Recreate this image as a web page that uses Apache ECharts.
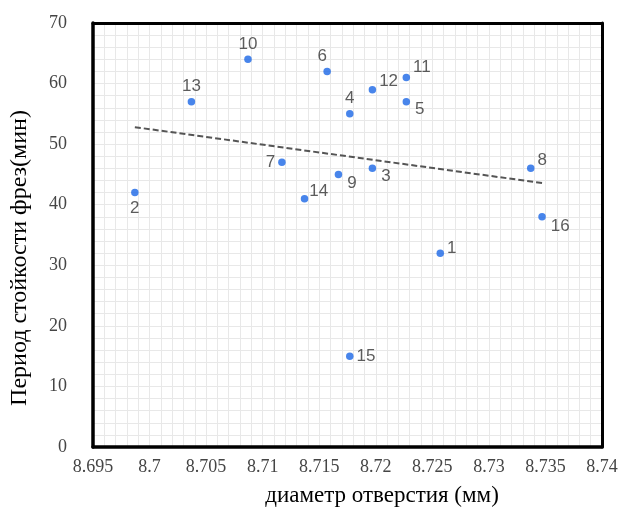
<!DOCTYPE html>
<html>
<head>
<meta charset="utf-8">
<script src="https://cdn.jsdelivr.net/npm/echarts@6/dist/echarts.min.js"></script>
<style>
html,body{margin:0;padding:0;background:#fff;}
#chart{width:621px;height:513px;}
</style>
</head>
<body>
<div id="chart"></div>
<script>
// Point numbers 1..16
const pointLabels = ['1','2','3','4','5','6','7','8','9','10','11','12','13','14','15','16'];
// Hole diameter (mm)
const xValues = [8.7257, 8.6987, 8.7197, 8.7177, 8.7227, 8.7157, 8.7117, 8.7337,
                 8.7167, 8.7087, 8.7227, 8.7197, 8.7037, 8.7137, 8.7177, 8.7347];
// Tool life (min)
const yValues = [32, 42, 46, 55, 57, 62, 47, 46, 45, 64, 61, 59, 57, 41, 15, 38];
// Label placement per point
const labelPos = ['right','bottom','right','top','right','top','left','right',
                  'right','top','right','right','top','right','right','right'];
const labelOffset = [[0,-5],[0,0],[2,8],[0,0],[2,8],[-5,0],[0,0],[0,-8],
                     [2,9],[0,0],[0,-10],[0,-8],[0,0],[-2,-7],[0,0],[2,9]];

const xTitle = 'диаметр отверстия (мм)';
const yTitle = 'Период стойкости фрез(мин)';

// least squares trend line
const n = xValues.length;
const mx = xValues.reduce((a,b)=>a+b,0)/n;
const my = yValues.reduce((a,b)=>a+b,0)/n;
let sxy = 0, sxx = 0;
for (let i=0;i<n;i++){ sxy += (xValues[i]-mx)*(yValues[i]-my); sxx += (xValues[i]-mx)**2; }
const slope = sxy/sxx, icpt = my - slope*mx;
const xMin = Math.min(...xValues), xMax = Math.max(...xValues);
const trend = [[xMin, icpt+slope*xMin],[xMax, icpt+slope*xMax]];

const pts = xValues.map((x,i)=>({
  value:[x, yValues[i]],
  label:{show:true, formatter:pointLabels[i], position:labelPos[i], offset:labelOffset[i], distance:3}
}));

const gridColor = '#e8e8e8';
const X_MIN = 8.695, X_MAX = 8.74, X_INT = 0.005;
const Y_MIN = 0, Y_MAX = 70, Y_INT = 10;
const chart = echarts.init(document.getElementById('chart'), null, {renderer:'canvas'});
chart.setOption({
  animation:false,
  backgroundColor:'#fff',
  grid:{left:93, right:19, top:23, bottom:66, show:false},
  xAxis:[{
    type:'value', min:X_MIN, max:X_MAX, interval:X_INT,
    axisLine:{show:false},
    axisTick:{show:false},
    axisLabel:{color:'#454545', fontFamily:'Liberation Serif', fontSize:18, margin:11,
      formatter:v=>String(parseFloat(v.toFixed(3)))},
    splitLine:{show:true, lineStyle:{color:gridColor, width:1}},
    minorTick:{show:false, splitNumber:5},
    minorSplitLine:{show:true, lineStyle:{color:gridColor, width:1}}
  },{
    type:'value', position:'top', min:X_MIN, max:X_MAX, interval:X_INT,
    axisLine:{show:true, onZero:false, lineStyle:{color:'#000', width:3}},
    axisTick:{show:false}, axisLabel:{show:false}, splitLine:{show:false}, z:5
  },{
    type:'value', position:'bottom', min:X_MIN, max:X_MAX, interval:X_INT,
    axisLine:{show:true, onZero:false, lineStyle:{color:'#000', width:3.5}},
    axisTick:{show:false}, axisLabel:{show:false}, splitLine:{show:false}, z:5
  }],
  yAxis:[{
    type:'value', min:Y_MIN, max:Y_MAX, interval:Y_INT,
    axisLine:{show:false},
    axisTick:{show:false},
    axisLabel:{color:'#454545', fontFamily:'Liberation Serif', fontSize:18, margin:26},
    splitLine:{show:true, lineStyle:{color:gridColor, width:1}},
    minorTick:{show:false, splitNumber:5},
    minorSplitLine:{show:true, lineStyle:{color:gridColor, width:1}}
  },{
    type:'value', position:'right', min:Y_MIN, max:Y_MAX, interval:Y_INT,
    axisLine:{show:true, onZero:false, lineStyle:{color:'#000', width:3}},
    axisTick:{show:false}, axisLabel:{show:false}, splitLine:{show:false}, z:5
  },{
    type:'value', position:'left', min:Y_MIN, max:Y_MAX, interval:Y_INT,
    axisLine:{show:true, onZero:false, lineStyle:{color:'#000', width:3.5}},
    axisTick:{show:false}, axisLabel:{show:false}, splitLine:{show:false}, z:5
  }],
  graphic:[
    {type:'text', style:{text:xTitle, x:382, y:496, align:'center', verticalAlign:'middle',
      font:'23px "Liberation Serif"', fill:'#000'}},
    {type:'text', x:20, y:258, rotation:Math.PI/2, style:{text:yTitle, x:0, y:0, align:'center', verticalAlign:'middle',
      font:'24px "Liberation Serif"', fill:'#000'}}
  ],
  series:[
    {type:'line', data:trend, symbol:'none', silent:true, z:2,
     lineStyle:{color:'#555', width:2, type:[6,3]}},
    {type:'scatter', data:pts, symbol:'circle', symbolSize:7.5, z:3,
     itemStyle:{color:'#1a66e6'},
     label:{color:'#333', fontFamily:'Liberation Sans', fontSize:17}}
  ]
});
</script>
</body>
</html>
